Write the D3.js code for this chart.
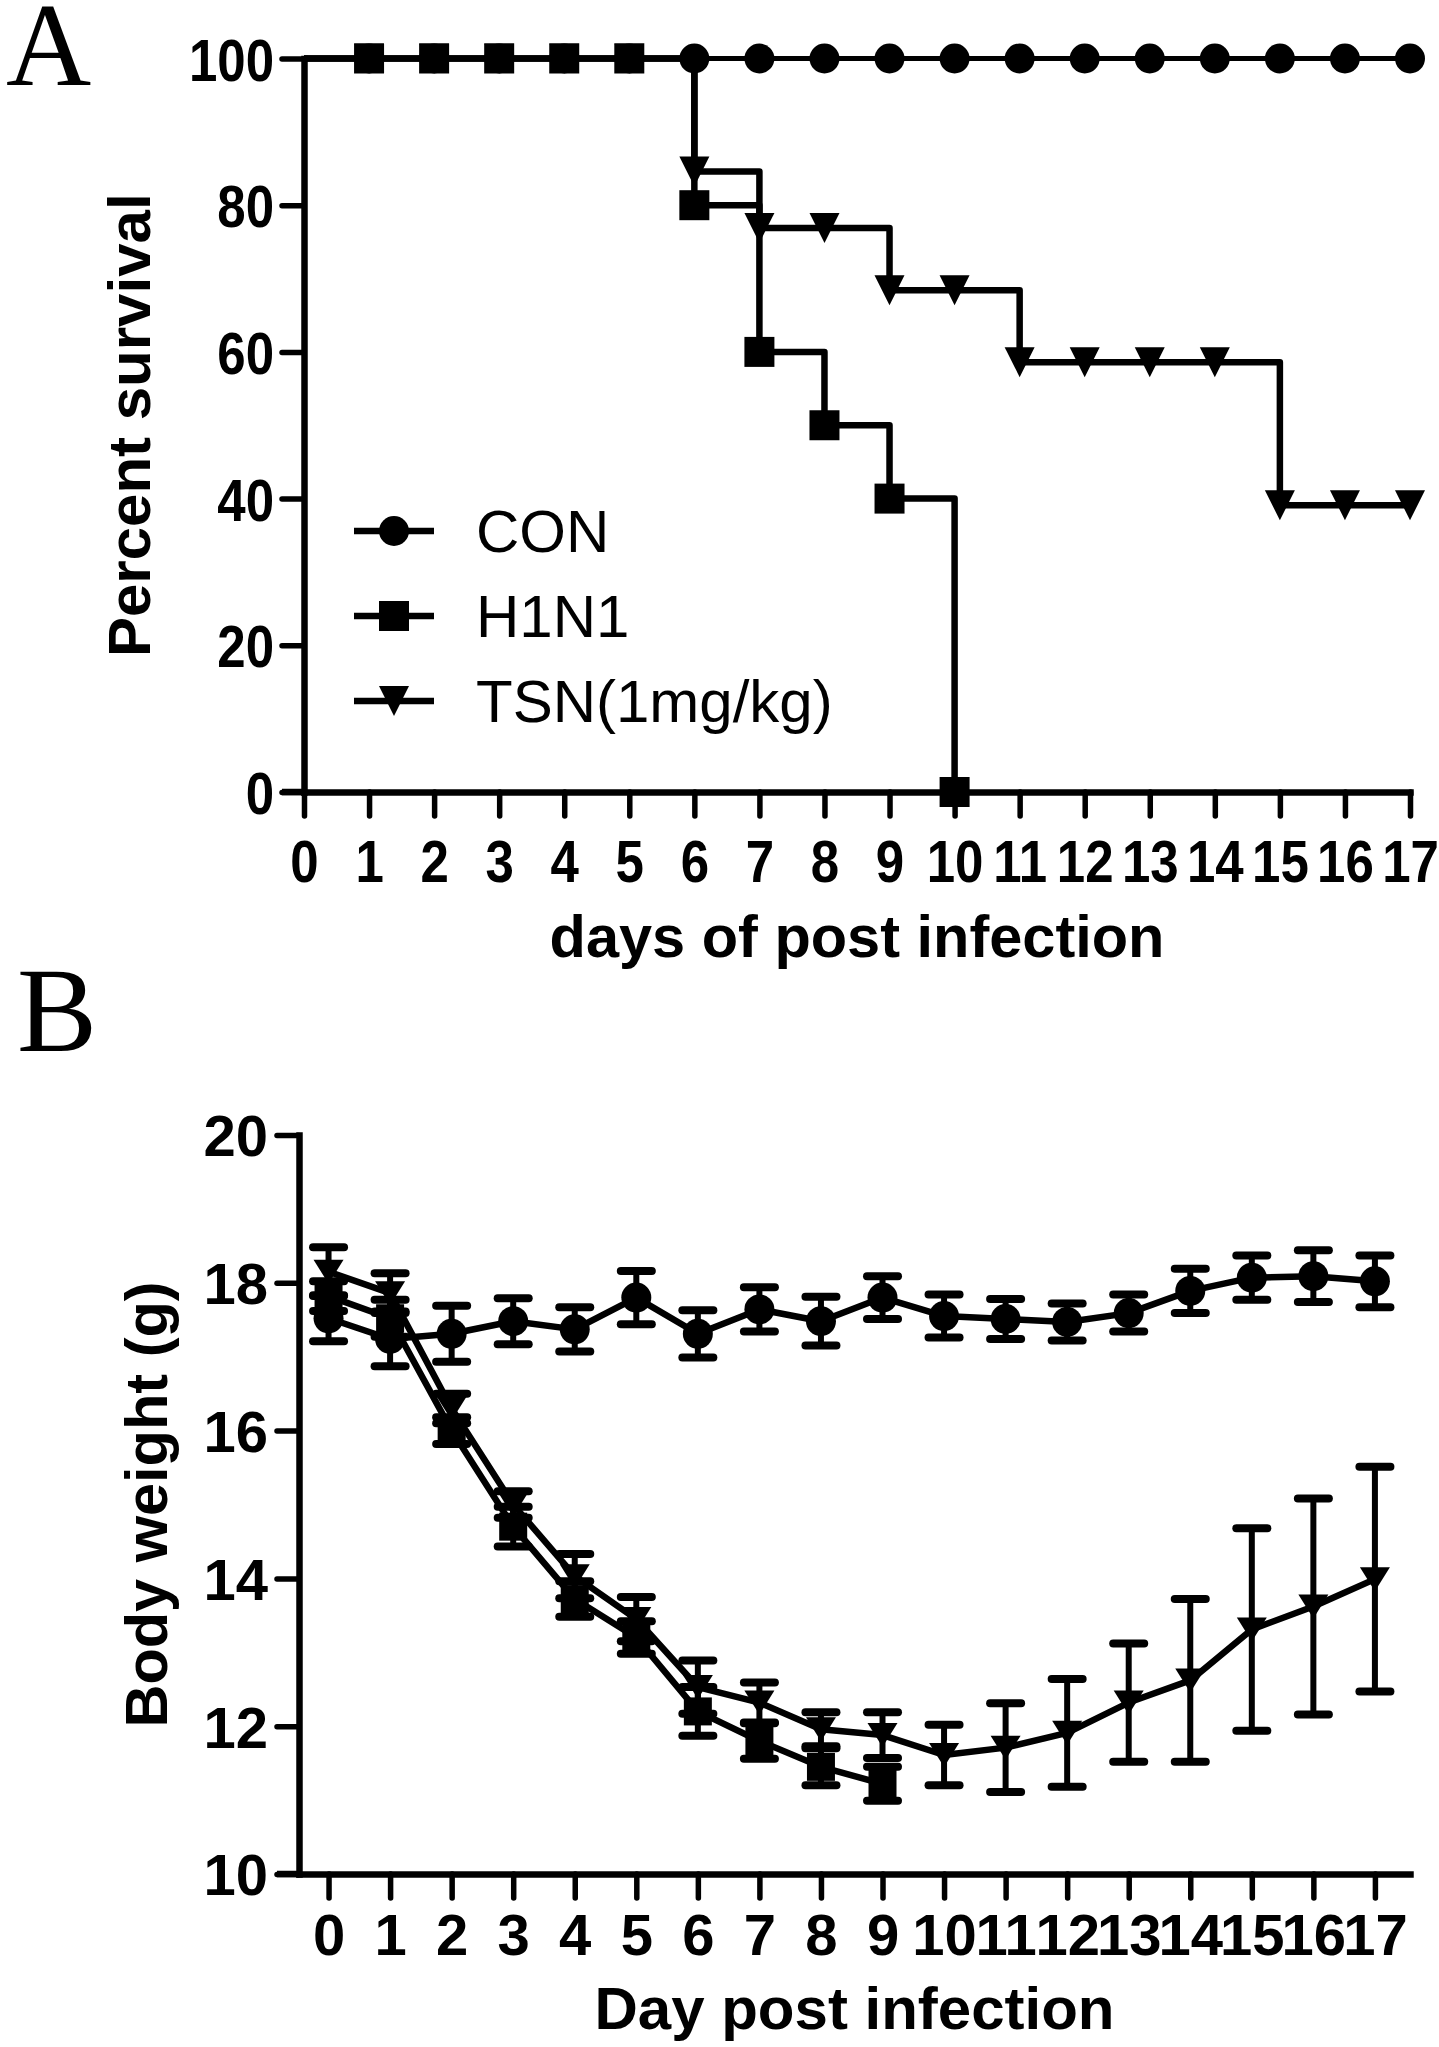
<!DOCTYPE html>
<html><head><meta charset="utf-8">
<script src="https://cdn.jsdelivr.net/npm/d3@7"></script>
<style>body{margin:0;background:#fff} svg{display:block}</style>
</head><body>
<svg id="c" width="1439" height="2047"></svg>
<script>
// ---------- DATA ----------
const seriesNames = ["CON", "H1N1", "TSN(1mg/kg)"];

// Panel A: Kaplan-Meier survival (%)
const survivalDays = [0,1,2,3,4,5,6,7,8,9,10,11,12,13,14,15,16,17];
const survivalCON  = [100,100,100,100,100,100,100,100,100,100,100,100,100,100,100,100,100,100];
const survivalH1N1 = [100,100,100,100,100,100,80,60,50,40,0];
const survivalTSN  = [100,100,100,100,100,100,84.6,76.9,76.9,68.4,68.4,58.6,58.6,58.6,58.6,39.1,39.1,39.1];
const survivalTicksY = [0,20,40,60,80,100];
const survivalTicksX = [0,1,2,3,4,5,6,7,8,9,10,11,12,13,14,15,16,17];

// Panel B: body weight (g), mean and error
const weightDays = [0,1,2,3,4,5,6,7,8,9,10,11,12,13,14,15,16,17];
const weightCON     = [17.52,17.24,17.31,17.48,17.37,17.80,17.31,17.64,17.48,17.80,17.55,17.51,17.47,17.59,17.89,18.07,18.09,18.02];
const weightCONerr  = [0.31,0.37,0.38,0.31,0.30,0.36,0.32,0.30,0.33,0.29,0.29,0.27,0.25,0.25,0.30,0.30,0.35,0.35];
const weightH1N1    = [17.82,17.52,16.00,14.70,13.72,13.20,12.20,11.80,11.45,11.22];
const weightH1N1err = [0.20,0.25,0.18,0.27,0.24,0.22,0.33,0.24,0.25,0.23];
const weightTSN     = [18.15,17.86,16.30,15.00,14.03,13.45,12.53,12.32,11.96,11.88,11.61,11.71,11.91,12.32,12.62,13.31,13.62,13.99];
const weightTSNerr  = [0.33,0.27,0.20,0.18,0.30,0.30,0.36,0.27,0.23,0.31,0.41,0.60,0.73,0.80,1.10,1.37,1.46,1.52];
const weightTicksY = [10,12,14,16,18,20];
const weightTicksX = [0,1,2,3,4,5,6,7,8,9,10,11,12,13,14,15,16,17];

// ---------- HELPERS ----------
const svg = d3.select("#c");
const FONT = "'Liberation Sans', Arial, Helvetica, sans-serif";
const triDown = (aspect) => ({
  draw(ctx, size) {
    const w = Math.sqrt(size), h = w * aspect;
    ctx.moveTo(-w/2, -h/2); ctx.lineTo(w/2, -h/2); ctx.lineTo(0, h/2); ctx.closePath();
  }
});
function marker(kind, panel) {
  if (kind === 0) return d3.symbol(d3.symbolCircle, Math.PI * 15 * 15)();
  if (kind === 1) return d3.symbol(d3.symbolSquare, panel === "A" ? 900 : 784)();
  return d3.symbol(triDown(panel === "A" ? 1 : 0.8), 900)();
}
function styleAxis(g, fontSize) {
  g.select(".domain").attr("stroke", "#000").attr("stroke-width", 6.5).attr("stroke-linecap", "square");
  g.selectAll(".tick line").attr("stroke", "#000").attr("stroke-width", 5.5).attr("stroke-linecap", "round");
  g.selectAll(".tick text").attr("fill", "#000").attr("font-family", FONT)
    .attr("font-weight", "bold").attr("font-size", fontSize);
}

// ---------- PANEL A ----------
const xA = d3.scaleLinear().domain([0, 17]).range([304, 1410]);
const yA = d3.scaleLinear().domain([0, 100]).range([792, 58.5]);

svg.append("text").attr("x", 6).attr("y", 85).attr("font-family", "'Liberation Serif', 'Times New Roman', serif")
  .attr("font-size", 118).text("A");

const axAy = svg.append("g").attr("transform", `translate(${xA(0)},0)`)
  .call(d3.axisLeft(yA).tickValues(survivalTicksY).tickSize(22).tickSizeOuter(0));
styleAxis(axAy, 60);
axAy.selectAll(".tick text").attr("x", 0).attr("dy", "0.36em").attr("transform", "translate(-30,0) scale(0.85,1)");

const axAx = svg.append("g").attr("transform", `translate(0,${yA(0)})`)
  .call(d3.axisBottom(xA).tickValues(survivalTicksX).tickSize(24).tickSizeOuter(0));
styleAxis(axAx, 60);
axAx.selectAll(".tick text").attr("y", 882 - yA(0)).attr("dy", null).attr("transform", "scale(0.85,1)");
// extend x-axis line left to the end of the y tick
svg.append("line").attr("x1", xA(0) - 22).attr("x2", xA(0)).attr("y1", yA(0)).attr("y2", yA(0))
  .attr("stroke", "#000").attr("stroke-width", 6.5);

svg.append("text").attr("x", (xA(0) + xA(17)) / 2).attr("y", 957).attr("text-anchor", "middle")
  .attr("font-family", FONT).attr("font-weight", "bold").attr("font-size", 59.5).text("days of post infection");
svg.append("text").attr("transform", `translate(150,${(yA(0) + yA(100)) / 2}) rotate(-90)`)
  .attr("text-anchor", "middle").attr("font-family", FONT).attr("font-weight", "bold")
  .attr("font-size", 60).text("Percent survival");

const stepLine = d3.line().x(d => xA(d[0])).y(d => yA(d[1])).curve(d3.curveStepAfter);
const survSeries = [
  { vals: survivalCON, kind: 0, w: 5 },
  { vals: survivalTSN, kind: 2, w: 6.5 },
  { vals: survivalH1N1, kind: 1, w: 6.5 }
];
survSeries.forEach(s => {
  const pts = s.vals.map((v, i) => [survivalDays[i], v]);
  svg.append("path").attr("d", stepLine(pts)).attr("fill", "none").attr("stroke", "#000")
    .attr("stroke-width", s.w).attr("stroke-linejoin", "round");
});
survSeries.forEach(s => {
  const pts = s.vals.map((v, i) => [survivalDays[i], v]).filter(p => p[0] > 0);
  svg.append("g").selectAll("path").data(pts).join("path")
    .attr("d", marker(s.kind, "A"))
    .attr("transform", p => `translate(${xA(p[0])},${yA(p[1])})`).attr("fill", "#000");
});

// legend
const legendY = [531, 616, 701];
seriesNames.forEach((name, i) => {
  const g = svg.append("g");
  g.append("line").attr("x1", 354).attr("x2", 434).attr("y1", legendY[i]).attr("y2", legendY[i])
    .attr("stroke", "#000").attr("stroke-width", 6.5);
  g.append("path").attr("d", marker(i, "A")).attr("transform", `translate(394,${legendY[i]})`).attr("fill", "#000");
  g.append("text").attr("x", 476).attr("y", legendY[i] + 21).attr("font-family", FONT)
    .attr("font-size", 60).text(name);
});

// ---------- PANEL B ----------
const xB = d3.scaleLinear().domain([-0.48, 17.57]).range([299, 1410]);
const yB = d3.scaleLinear().domain([10, 20]).range([1874, 1135]);

svg.append("text").attr("x", 17).attr("y", 1051).attr("font-family", "'Liberation Serif', 'Times New Roman', serif")
  .attr("font-size", 120).text("B");

const axBy = svg.append("g").attr("transform", `translate(${xB.range()[0]},0)`)
  .call(d3.axisLeft(yB).tickValues(weightTicksY).tickSize(22).tickSizeOuter(0));
styleAxis(axBy, 58);
axBy.selectAll(".tick text").attr("x", -31).attr("dy", "0.36em");

const axBx = svg.append("g").attr("transform", `translate(0,${yB(10)})`)
  .call(d3.axisBottom(xB).tickValues(weightTicksX).tickSize(24).tickSizeOuter(0));
styleAxis(axBx, 58);
axBx.selectAll(".tick text").attr("y", 1955 - yB(10)).attr("dy", null);
svg.append("line").attr("x1", xB.range()[0] - 22).attr("x2", xB.range()[0]).attr("y1", yB(10)).attr("y2", yB(10))
  .attr("stroke", "#000").attr("stroke-width", 6.5);

svg.append("text").attr("x", (xB.range()[0] + xB.range()[1]) / 2).attr("y", 2029).attr("text-anchor", "middle")
  .attr("font-family", FONT).attr("font-weight", "bold").attr("font-size", 60).text("Day post infection");
svg.append("text").attr("transform", `translate(167,${(yB(10) + yB(20)) / 2}) rotate(-90)`)
  .attr("text-anchor", "middle").attr("font-family", FONT).attr("font-weight", "bold")
  .attr("font-size", 59.5).text("Body weight (g)");

const wSeries = [
  { m: weightCON, e: weightCONerr, kind: 0 },
  { m: weightH1N1, e: weightH1N1err, kind: 1 },
  { m: weightTSN, e: weightTSNerr, kind: 2 }
];
const lineB = d3.line().x(d => xB(d.x)).y(d => yB(d.m));
wSeries.forEach(s => {
  const pts = s.m.map((m, i) => ({ x: weightDays[i], m, e: s.e[i] }));
  const g = svg.append("g");
  const eb = g.selectAll("g.eb").data(pts).join("g");
  eb.append("line").attr("x1", d => xB(d.x)).attr("x2", d => xB(d.x))
    .attr("y1", d => yB(d.m - d.e)).attr("y2", d => yB(d.m + d.e))
    .attr("stroke", "#000").attr("stroke-width", 6);
  [-1, 1].forEach(sg => {
    eb.append("line").attr("x1", d => xB(d.x) - 15.5).attr("x2", d => xB(d.x) + 15.5)
      .attr("y1", d => yB(d.m + sg * d.e)).attr("y2", d => yB(d.m + sg * d.e))
      .attr("stroke", "#000").attr("stroke-width", 8).attr("stroke-linecap", "round");
  });
  g.append("path").attr("d", lineB(pts)).attr("fill", "none").attr("stroke", "#000")
    .attr("stroke-width", 6.5).attr("stroke-linejoin", "round");
  g.selectAll("path.mk").data(pts).join("path").attr("class", "mk")
    .attr("d", marker(s.kind, "B"))
    .attr("transform", d => `translate(${xB(d.x)},${yB(d.m)})`).attr("fill", "#000");
});
</script>
</body></html>
